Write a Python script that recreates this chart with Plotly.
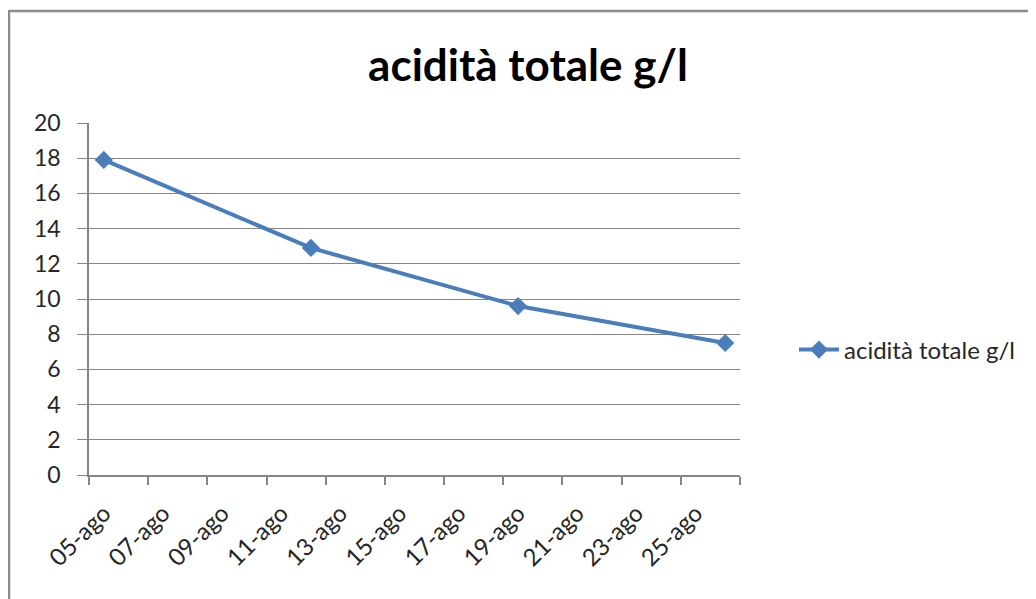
import plotly.graph_objects as go

dates = ["2010-08-05", "2010-08-12", "2010-08-19", "2010-08-26"]
acidity = [17.9, 12.9, 9.6, 7.5]
tick_dates = ["2010-08-05", "2010-08-07", "2010-08-09", "2010-08-11", "2010-08-13",
              "2010-08-15", "2010-08-17", "2010-08-19", "2010-08-21", "2010-08-23", "2010-08-25"]
tick_labels = ["05-ago", "07-ago", "09-ago", "11-ago", "13-ago", "15-ago",
               "17-ago", "19-ago", "21-ago", "23-ago", "25-ago"]
series_name = "acidità totale g/l"

OFF = 8  # page body margin
W, H = 1036 - OFF, 599 - OFF
L, R, T, B = 89 - OFF, 740 - OFF, 123 - OFF, 475 - OFF

fig = go.Figure()
fig.add_trace(go.Scatter(
    x=dates, y=acidity, mode="lines+markers", name=series_name,
    line=dict(color="#4A7EBB", width=4),
    marker=dict(symbol="diamond", size=14, color="#4A7EBB"),
))

def px_x(p):
    return (p - OFF - L) / (R - L)

def px_y(p):
    return (B - (p - OFF)) / (B - T)

fig.update_layout(
    width=W, height=H,
    margin=dict(l=L, r=W - R, t=T, b=H - B),
    paper_bgcolor="white", plot_bgcolor="white",
    font=dict(family="Lato, Open Sans, sans-serif", color="#262626"),
    title=dict(text="<b>acidità totale g/l</b>", x=(528 - OFF) / W, xanchor="center",
               y=1 - (66 - OFF) / H, yanchor="middle",
               font=dict(size=44, color="#000000")),
    showlegend=True,
    legend=dict(x=px_x(794), y=px_y(350), xanchor="left", yanchor="middle",
                font=dict(size=24, color="#262626"), bgcolor="rgba(0,0,0,0)",
                itemwidth=40),
    xaxis=dict(
        type="date",
        range=["2010-08-04 12:00", "2010-08-26 12:00"],
        tickmode="array", tickvals=tick_dates, ticktext=tick_labels,
        tickangle=-45, ticks="", showgrid=False,
        showline=True, linecolor="#868686", linewidth=1.5,
        tickfont=dict(size=24, color="#262626"),
        ticklabelstandoff=13,
        minor=dict(ticks="outside", ticklen=8, tickcolor="#868686", tickwidth=1.5,
                   tick0="2010-08-04 12:00", dtick=2 * 86400000, showgrid=False),
    ),
    yaxis=dict(
        range=[0, 20], dtick=2, tick0=0,
        showgrid=True, gridcolor="#868686", gridwidth=1,
        showline=True, linecolor="#868686", linewidth=1.5,
        ticks="outside", ticklen=10, tickcolor="#868686",
        tickfont=dict(size=23, color="#262626"),
        ticklabelstandoff=12,
        zeroline=False,
    ),
    shapes=[dict(type="rect", xref="paper", yref="paper",
                 x0=px_x(9), y0=px_y(620), x1=px_x(1060), y1=px_y(11),
                 line=dict(color="#8C8C8C", width=2.5), fillcolor="rgba(0,0,0,0)")],
)

fig.write_html("out.html")
